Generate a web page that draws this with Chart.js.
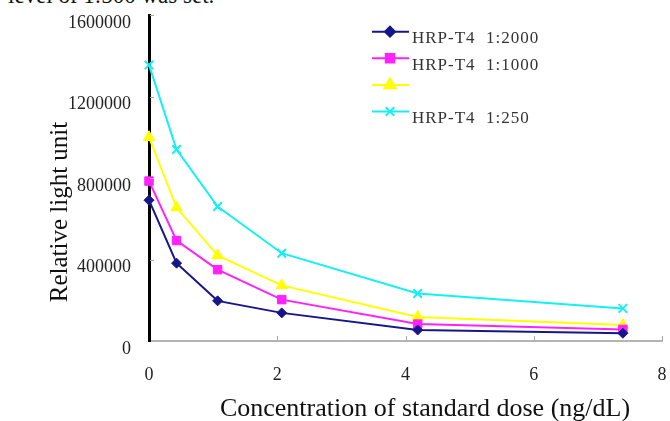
<!DOCTYPE html>
<html>
<head>
<meta charset="utf-8">
<script src="https://cdn.jsdelivr.net/npm/chart.js@4.4.1/dist/chart.umd.min.js"></script>
<style>
  body { margin: 0; background: #fff; }
  #wrap { position: relative; width: 670px; height: 421px; overflow: hidden; }
  #caption { position: absolute; left: 8px; top: -16px; font: 23px/23px "Liberation Serif", serif; color: #111; white-space: nowrap; }
  canvas { position: absolute; left: 0; top: 0; }
</style>
</head>
<body>
<div id="wrap">
  <div id="caption">level of 1:500 was set.</div>
  <canvas id="curve" width="670" height="421"></canvas>
</div>
<script>
// concentration of standard dose (ng/dL)
const doses = [0, 0.43, 1.07, 2.07, 4.19, 7.39];

const seriesNames = ['HRP-T4  1:2000', 'HRP-T4  1:1000', '', 'HRP-T4  1:250'];
const rlu2000 = [691000, 382000, 197000, 138000, 54000, 38000];
const rlu1000 = [785000, 493000, 350000, 203000, 83000, 57000];
const rlu500  = [1000000, 655000, 420000, 273000, 118000, 78000];
const rlu250  = [1355000, 940000, 660000, 431000, 233000, 160000];

const yTicks = [0, 400000, 800000, 1200000, 1600000];
const xTicks = [0, 2, 4, 6, 8];

const xTitle = 'Concentration of standard dose (ng/dL)';
const yTitle = 'Relative light unit';

const colors = ['#16168a', '#ff22ff', '#ffff00', '#14f0f4'];
const shapes = ['rectRot', 'rect', 'triangle', 'crossRot'];
const sizes = [5, 6, 6.5, 6];

function toPoints(vals) {
  return doses.map((d, i) => ({ x: d, y: vals[i] }));
}

const allSeries = [rlu2000, rlu1000, rlu500, rlu250];
const datasets = allSeries.map((vals, i) => ({
  label: seriesNames[i],
  data: toPoints(vals),
  borderColor: colors[i],
  backgroundColor: colors[i],
  borderWidth: 2,
  pointStyle: shapes[i],
  pointRadius: sizes[i],
  pointBorderWidth: shapes[i] === 'crossRot' ? 2 : 1,
  pointBorderColor: colors[i],
  pointBackgroundColor: colors[i],
  tension: 0,
  clip: false
}));

// legend inside the plot, top right
const innerLegend = {
  id: 'innerLegend',
  afterDraw(chart) {
    const ctx = chart.ctx;
    ctx.save();
    chart.data.datasets.forEach((ds, i) => {
      const y = 31.7 + 26.6 * i;
      ctx.strokeStyle = ds.borderColor;
      ctx.lineWidth = 2;
      ctx.beginPath();
      ctx.moveTo(372, y);
      ctx.lineTo(409, y);
      ctx.stroke();
      ctx.fillStyle = ds.backgroundColor;
      Chart.helpers.drawPoint(ctx, {
        pointStyle: ds.pointStyle,
        radius: ds.pointRadius,
        borderWidth: ds.pointBorderWidth,
        rotation: 0
      }, 390, y);
      if (ds.label) {
        ctx.fillStyle = '#333';
        ctx.font = '17px "Liberation Serif", serif';
        ctx.letterSpacing = '1px';
        ctx.textAlign = 'left';
        ctx.textBaseline = 'middle';
        ctx.fillText(ds.label, 412, y + 7);
      }
    });
    ctx.restore();
  }
};

// small tick marks pointing into the plot + axis titles
const axisDecor = {
  id: 'axisDecor',
  afterDraw(chart) {
    const ctx = chart.ctx;
    const xs = chart.scales.x, ys = chart.scales.y;
    ctx.save();
    ctx.strokeStyle = '#a8a8a8';
    ctx.lineWidth = 1;
    ctx.beginPath();
    xs.ticks.forEach((t, i) => {
      if (i === 0) return;
      const px = Math.round(xs.getPixelForTick(i)) + 0.5;
      ctx.moveTo(px, ys.bottom);
      ctx.lineTo(px, ys.bottom - 5);
    });
    ys.ticks.forEach((t, i) => {
      if (i === 0) return;
      const py = Math.round(ys.getPixelForTick(i)) + 0.5;
      ctx.moveTo(xs.left + 1, py);
      ctx.lineTo(xs.left + 5, py);
    });
    ctx.stroke();

    ctx.fillStyle = '#111';
    ctx.textAlign = 'center';
    ctx.textBaseline = 'middle';
    ctx.font = '26px "Liberation Serif", serif';
    ctx.fillText(xTitle, 425, 409);
    ctx.translate(60, 212);
    ctx.rotate(-Math.PI / 2);
    ctx.font = '25px "Liberation Serif", serif';
    ctx.fillText(yTitle, 0, 0);
    ctx.restore();
  }
};

new Chart(document.getElementById('curve'), {
  type: 'line',
  data: { datasets },
  options: {
    responsive: false,
    animation: false,
    layout: { padding: { left: 0, right: 7, top: 15, bottom: 0 } },
    plugins: { legend: { display: false }, tooltip: { enabled: false } },
    scales: {
      x: {
        type: 'linear',
        min: xTicks[0],
        max: xTicks[xTicks.length - 1],
        afterBuildTicks: s => { s.ticks = xTicks.map(v => ({ value: v })); },
        afterFit: s => { s.height = 80; s.paddingLeft = 0; s.paddingRight = 0; },
        grid: { drawOnChartArea: false, drawTicks: false },
        border: { display: true, color: '#b4b4b4', width: 2 },
        ticks: {
          padding: 23,
          color: '#222',
          font: { family: '"Liberation Serif", serif', size: 18 },
          callback: v => String(v)
        }
      },
      y: {
        type: 'linear',
        min: yTicks[0],
        max: yTicks[yTicks.length - 1],
        afterBuildTicks: s => { s.ticks = yTicks.map(v => ({ value: v })); },
        afterFit: s => { s.width = 149; s.paddingTop = 0; s.paddingBottom = 0; },
        grid: { drawOnChartArea: false, drawTicks: false },
        border: { display: true, color: '#000', width: 3 },
        ticks: {
          padding: 18,
          labelOffset: 8,
          color: '#222',
          font: { family: '"Liberation Serif", serif', size: 18 },
          callback: v => String(v)
        }
      }
    }
  },
  plugins: [axisDecor, innerLegend]
});
</script>
</body>
</html>
